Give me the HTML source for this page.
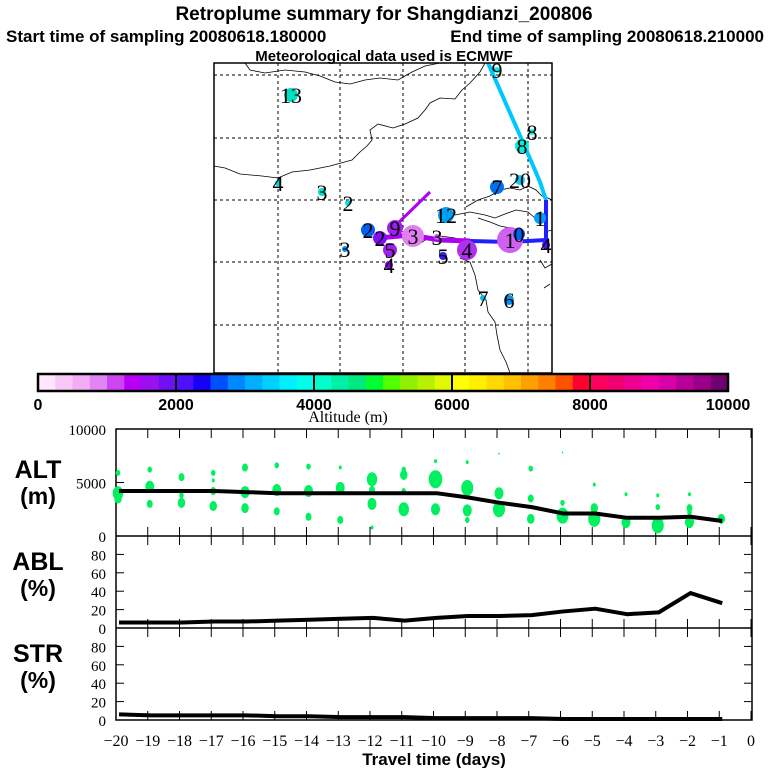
<!DOCTYPE html>
<html><head><meta charset="utf-8"><style>
html,body{margin:0;padding:0;background:#fff;width:768px;height:768px;overflow:hidden}
svg{display:block}
text{font-family:"Liberation Serif",serif}
.b{font-family:"Liberation Sans",sans-serif;font-weight:bold}
</style></head><body>
<svg id="s" width="768" height="768" viewBox="0 0 768 768" xmlns="http://www.w3.org/2000/svg">
<g>
<text class="b" x="384" y="20" font-size="19" text-anchor="middle">Retroplume summary for Shangdianzi_200806</text>
<text class="b" x="6" y="42" font-size="17">Start time of sampling 20080618.180000</text>
<text class="b" x="764" y="42" font-size="17" text-anchor="end">End time of sampling 20080618.210000</text>
<text class="b" x="384" y="61" font-size="15" text-anchor="middle">Meteorological data used is ECMWF</text>
</g>
<g id="map"></g>
<g id="cbar"></g>
<g id="panels"></g>
</svg>
<script>
const NS="http://www.w3.org/2000/svg";
const svg=document.getElementById('s');
function mk(parent,tag,attrs,txt){const e=document.createElementNS(NS,tag);for(const k in attrs)e.setAttribute(k,attrs[k]);if(txt!==undefined)e.textContent=txt;parent.appendChild(e);return e;}

// ---------- data ----------
const days=[-20,-19,-18,-17,-16,-15,-14,-13,-12,-11,-10,-9,-8,-7,-6,-5,-4,-3,-2,-1];
const altMean=[4200,4200,4200,4200,4100,4000,4000,4000,4000,4000,4000,3600,3100,2700,2100,2100,1700,1700,1800,1400];
const ablPct=[6,6,6,7,7,8,9,10,11,8,11,13,13,14,18,21,15,17,38,27];
const strPct=[5,4,4,4,4,3,3,2,2,2,1,1,1,1,0,0,0,0,0,0];
const blobDay=[-20,-20,-20,-19,-19,-19,-18,-18,-18,-17,-17,-17,-17,-16,-16,-16,-15,-15,-15,-14,-14,-14,-13,-13,-13,-12,-12,-12,-12,-11,-11,-11,-11,-10,-10,-10,-9,-9,-9,-9,-8,-8,-8,-7,-7,-7,-6,-6,-6,-5,-5,-5,-4,-4,-3,-3,-3,-2,-2,-2,-2,-1];
const blobAlt=[5900,4000,3500,6200,4600,3000,5500,3800,3100,5900,5200,4200,2800,6400,4100,2600,6600,4300,2300,6500,4200,1800,6400,4500,1500,5300,4300,3000,800,6200,5700,4200,2500,7000,5300,2500,6900,4500,2400,1500,7700,4000,2500,6300,3500,1600,7800,3100,1900,4800,2600,1600,3900,1300,3800,2700,1000,3900,2600,2200,1300,1600];
const blobSize=[3,7,5,3,6,4,4,3,5,3,2,4,5,4,6,5,3,6,4,3,6,4,2,6,4,7,4,6,2,3,5,3,7,2,9,6,2,8,6,3,1,6,8,3,4,5,1,3,8,2,5,8,2,6,2,3,8,2,4,3,6,5];

const ctab=["#ffe6fa","#f9c8f5","#f2aef4","#e185f4","#cd45f0","#b800f8","#9a10f0","#7010f8",
"#5010ff","#1800f8","#0050ff","#0088ff","#00b0ff","#00d0ff","#00f0ff","#00ffe8",
"#00ffcc","#00f0a8","#00e880","#00ff30","#50ff00","#90f000","#b8f000","#e0f800",
"#ffff00","#fff000","#ffd800","#ffc000","#ffa000","#ff8000","#ff5000","#ff0030",
"#ff0060","#f00070","#f00090","#f000a8","#d800a8","#b80098","#980088","#700070"];
const cbTicks=[0,2000,4000,6000,8000,10000];

// ---------- map ----------
const map=document.getElementById('map');
const mx0=214,mx1=552,my0=63,my1=373;
const clip=mk(map,'clipPath',{id:'mc'});mk(clip,'rect',{x:mx0,y:my0,width:mx1-mx0,height:my1-my0});
const mg=mk(map,'g',{'clip-path':'url(#mc)'});
[278,340,403,465,528].forEach(x=>{const l=mk(mg,'line',{x1:x,y1:my0,x2:x,y2:my1,stroke:'#000','stroke-width':1,'stroke-dasharray':'3,3'});
});
[75,138,200,262,325].forEach(y=>{const l=mk(mg,'line',{x1:mx0,y1:y,x2:mx1,y2:y,stroke:'#000','stroke-width':1,'stroke-dasharray':'3,3'});
});
const coasts=["M245,63 L250,70 L265,73 L285,70 L305,72 L320,76 L335,82 L350,84 L365,80 L380,78 L398,80 L412,72 L425,66 L440,63",
"M214,166 L225,168 L240,174 L262,176 L278,178 L292,172 L310,170 L330,166 L352,160 L360,152 L367,146 L372,140 L370,130 L378,124 L393,128 L405,124 L418,118 L425,110 L430,103 L440,98 L455,99 L462,90 L470,83 L480,72 L485,63",
"M278,178 L280,184",
"M466,207 L478,200 L490,196 L500,190 L510,188 L520,190 L528,186 L536,190 L542,196 L548,198 L552,200",
"M455,215 L470,212 L485,215 L495,218 L505,214 L516,210 L528,212 L535,218 L540,222",
"M478,218 L490,222 L500,226 L510,228",
"M418,245 L425,240 L440,236 L455,238 L466,246 L470,252",
"M460,258 L470,262 L475,275 L478,290 L486,300 L488,312 L495,322 L497,335 L500,350 L506,362 L510,373",
"M540,260 L545,268 L552,264","M544,288 L550,284","M545,232 L552,230"];
coasts.forEach(d=>{const p=mk(mg,'path',{d:d,fill:'none',stroke:'#000','stroke-width':0.8});
});
const trs=[["M488,63 L522,140 L540,182 L546,200","#00c8ff",4],["M546,200 L546,240 L510,242 L470,241","#2020ff",4],
["M470,241 L440,240 L410,235 L378,238","#b000f0",5],["M393,228 L430,192","#b000f0",3]];
trs.forEach(t=>{const p=mk(mg,'path',{d:t[0],fill:'none',stroke:t[1],'stroke-width':t[2]});
});
const marks=[[291,95,7,"#00e0c0","13"],[278,183,3,"#00d0e0","4"],[322,192,4,"#00e0d0","3"],[348,203,3,"#00e0e0","2"],[345,249,3,"#0090ff","3"],
[368,230,7,"#0060f0","2"],[380,238,7,"#8010f0","2"],[395,228,8,"#a020f0","9"],[390,250,7,"#a020f0","5"],[389,265,4,"#9000f0","4"],
[413,236,11,"#e080f0","3"],[437,237,3,"#c060f0","3"],[443,256,4,"#3020f0","5"],[446,215,8,"#00a0f0","12"],[467,250,10,"#b030f0","4"],
[510,240,13,"#d060f0","1"],[519,234,6,"#0060f0","0"],[540,218,6,"#00a0ff","1"],[546,245,4,"#5010f0","4"],[497,187,7,"#0070f0","7"],[520,180,5,"#00d0ff","20"],
[522,146,7,"#00f0e0","8"],[532,132,3,"#00f0f0","8"],[497,70,3,"#00f0f0","9"],[483,298,3,"#00c0e0","7"],[509,300,5,"#0090f0","6"]];
marks.forEach(m=>{const c=mk(mg,'circle',{cx:m[0],cy:m[1],r:m[2],fill:m[3]});

const t=mk(mg,'text',{x:m[0],y:m[1]+8,'font-size':22,'text-anchor':'middle',fill:'#000'},m[4]);
});
mk(map,'rect',{x:mx0,y:my0,width:mx1-mx0,height:my1-my0,fill:'none',stroke:'#000','stroke-width':1.5});

// ---------- colorbar ----------
const cb=document.getElementById('cbar');
const cbx0=38,cbx1=728,cby0=374,cby1=391;
const cw=(cbx1-cbx0)/ctab.length;
ctab.forEach((c,i)=>{const r=mk(cb,'rect',{x:cbx0+i*cw,y:cby0,width:cw+0.5,height:cby1-cby0,fill:c});
});
mk(cb,'rect',{x:cbx0,y:cby0,width:cbx1-cbx0,height:cby1-cby0,fill:'none',stroke:'#000','stroke-width':2.5});
cbTicks.forEach(v=>{const x=cbx0+(v/10000)*(cbx1-cbx0);
if(v>0&&v<10000)mk(cb,'line',{x1:x,y1:cby0,x2:x,y2:cby1,stroke:'#000','stroke-width':2});
const t=mk(cb,'text',{x:x,y:410,'font-size':16,'text-anchor':'middle',class:'b'},String(v));
});
const at=mk(cb,'text',{x:348,y:422,'font-size':16,'text-anchor':'middle'},'Altitude (m)');


// ---------- panels ----------
const P=document.getElementById('panels');
const px0=116,px1=752;
function X(d){return px0+(d+20)*31.75;}
const altTop=429,altBot=536,ablBot=628,strBot=720;
function YA(v){return altBot-v/10000*(altBot-altTop);}
function YP(v,bot){return bot-v/100*(ablBot-altBot);}
mk(P,'rect',{x:px0,y:altTop,width:px1-px0,height:strBot-altTop,fill:'none',stroke:'#000','stroke-width':1.5});
mk(P,'line',{x1:px0,y1:altBot,x2:px1,y2:altBot,stroke:'#000','stroke-width':1.5});
mk(P,'line',{x1:px0,y1:ablBot,x2:px1,y2:ablBot,stroke:'#000','stroke-width':1.5});
for(let d=-20;d<=0;d++){const x=X(d);
[altTop,altBot,ablBot].forEach(y=>mk(P,'line',{x1:x,y1:y,x2:x,y2:y+9,stroke:'#000','stroke-width':1}));
[altBot,ablBot,strBot].forEach(y=>mk(P,'line',{x1:x,y1:y,x2:x,y2:y-9,stroke:'#000','stroke-width':1}));
const t=mk(P,'text',{x:x,y:746,'font-size':16,'text-anchor':'middle'},d===0?'0':'\u2212'+(-d));
}
const xt=mk(P,'text',{x:434,y:765,'font-size':17,'text-anchor':'middle',class:'b'},'Travel time (days)');

[0,5000,10000].forEach(v=>{const y=YA(v);mk(P,'line',{x1:px0,y1:y,x2:px0+8,y2:y,stroke:'#000'});mk(P,'line',{x1:px1,y1:y,x2:px1-8,y2:y,stroke:'#000'});
const t=mk(P,'text',{x:106,y:y+6,'font-size':15,'text-anchor':'end'},String(v));});
[ablBot,strBot].forEach(bot=>{[0,20,40,60,80].forEach(v=>{const y=YP(v,bot);
mk(P,'line',{x1:px0,y1:y,x2:px0+8,y2:y,stroke:'#000'});mk(P,'line',{x1:px1,y1:y,x2:px1-8,y2:y,stroke:'#000'});
const t=mk(P,'text',{x:106,y:y+6,'font-size':15,'text-anchor':'end'},String(v));});});
[["ALT","(m)",483,"alt-label"],["ABL","(%)",575,"abl-label"],["STR","(%)",667,"str-label"]].forEach(l=>{
const a=mk(P,'text',{x:38,y:l[2]-5,'font-size':25,'text-anchor':'middle',class:'b'},l[0]);
const b=mk(P,'text',{x:38,y:l[2]+21,'font-size':23,'text-anchor':'middle',class:'b'},l[1]);});
blobDay.forEach((d,i)=>{const e=mk(P,'ellipse',{cx:X(d)+2,cy:YA(blobAlt[i]),rx:blobSize[i]*0.75,ry:blobSize[i],fill:'#00f060'});
});
function line(vals,fy,name){const pts=days.map((d,i)=>(X(d)+3)+','+fy(vals[i])).join(' ');
const p=mk(P,'polyline',{points:pts,fill:'none',stroke:'#000','stroke-width':4,'stroke-linejoin':'round'});
}
line(altMean,YA,'alt-mean-line');
line(ablPct,v=>YP(v,ablBot),'abl-line');
line(strPct,v=>YP(v,strBot)-1,'str-line');
</script>
</body></html>
